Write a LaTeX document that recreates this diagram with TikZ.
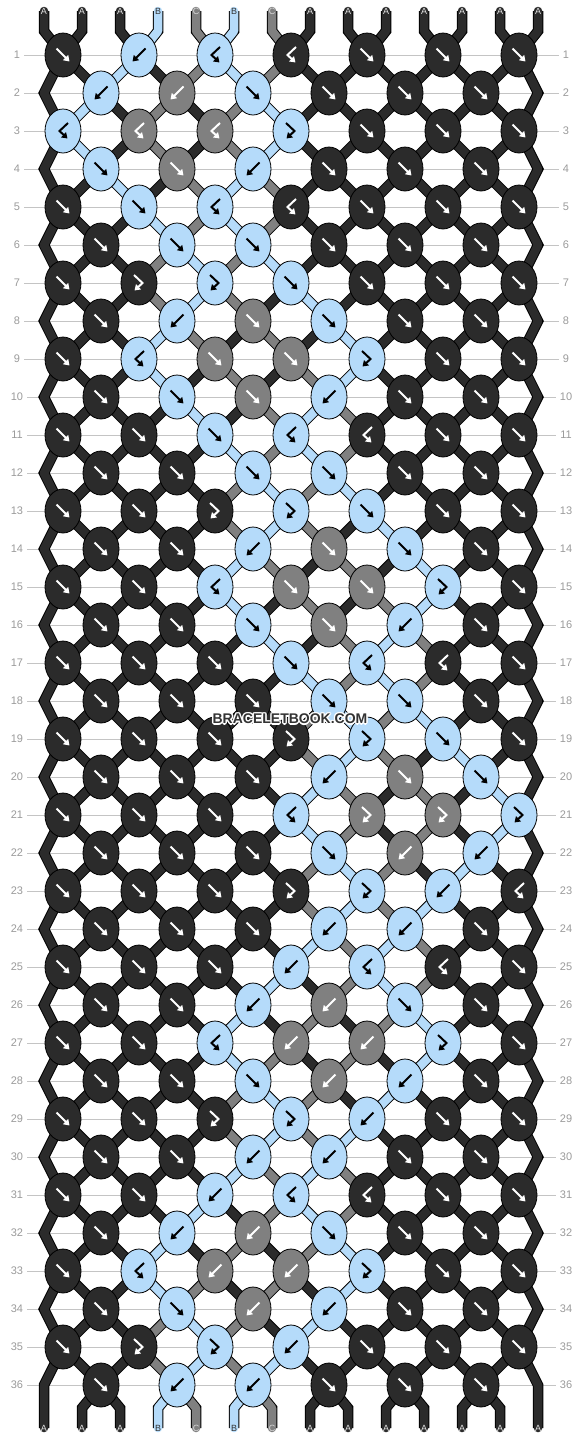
\documentclass[tikz,border=0pt]{standalone}
\usepackage{fontspec}
\setsansfont{Liberation Sans}
\usetikzlibrary{shapes.geometric,arrows.meta}
\definecolor{colA}{HTML}{2B2B2B}
\definecolor{colB}{HTML}{B5DBFA}
\definecolor{colC}{HTML}{808080}
\colorlet{arrA}{white}
\colorlet{arrB}{black}
\colorlet{arrC}{white}
\colorlet{txtA}{white!90!black}
\colorlet{txtB}{black!80}
\colorlet{txtC}{white!85!black}
\definecolor{gridgray}{HTML}{C4C4C4}
\definecolor{numgray}{HTML}{9A9A9A}
\pgfdeclarelayer{knots}
\pgfsetlayers{main,knots}
\newif\ifswap
\pgfkeys{/knot/.cd,
  f/.code={\let\kc\lcol\swaptrue},
  b/.code={\let\kc\rcol\swaptrue},
  fb/.code={\let\kc\lcol\swapfalse},
  bf/.code={\let\kc\rcol\swapfalse}}
\pgfkeys{/glyph/.cd,
  f/.code={\def\ga{(-6.5,-6.5)}\def\gb{(0,0)}\def\gc{(6.5,6.5)}},
  b/.code={\def\ga{(6.5,-6.5)}\def\gb{(0,0)}\def\gc{(-6.5,6.5)}},
  fb/.code={\def\ga{(-5,-8)}\def\gb{(3.5,0)}\def\gc{(-4.5,7.5)}},
  bf/.code={\def\ga{(5,-8)}\def\gb{(-3.5,0)}\def\gc{(4.5,7.5)}}}
\newcommand\strand[2]{\draw[strandline, draw=col#1] #2;}
\newcommand\incoming[2]{%
  \ifnum\rw=1 \strand{#2}{(t-#1) -- (p-0-#1) -- (p-1-#1)}%
  \else
    \ifnum\off=0
      \ifnum#1=0 \strand{#2}{(p-\rpp-#1) -- (p-\rp-#1) -- (p-\rw-#1)}%
      \else\ifnum#1=13 \strand{#2}{(p-\rpp-#1) -- (p-\rp-#1) -- (p-\rw-#1)}%
      \else \strand{#2}{(p-\rp-#1) -- (p-\rw-#1)}\fi\fi
    \else \strand{#2}{(p-\rp-#1) -- (p-\rw-#1)}\fi
  \fi}

\begin{document}
\begin{tikzpicture}[x=1pt, y=-1pt,
  knot/.style={ellipse, draw=black, line width=0.8pt, minimum width=36pt, minimum height=44pt, inner sep=0pt},
  glyph/.style={line width=2pt, -{Triangle[length=5.5pt,width=7pt]}},
  strandline/.style={line width=8.5pt, line cap=round, line join=round,
    preaction={draw=black, line width=10.5pt}},
  strlabel/.style={font=\sffamily\fontsize{9}{9}\selectfont, inner sep=0pt},
  rownum/.style={font=\sffamily\fontsize{11}{11}\selectfont, text=numgray, inner sep=4pt},
  gridline/.style={draw=gridgray, line width=0.9pt},
  markfont/.style={font=\sffamily\bfseries\fontsize{14}{14}\selectfont, inner sep=0pt}]
  \useasboundingbox (0,0) rectangle (582,1440);
  \foreach \rw in {1,...,36}{
    \node[rownum] (nl-\rw) at (17,55+38*\rw-38) {\rw};
    \node[rownum] (nr-\rw) at (566,55+38*\rw-38) {\rw};
    \draw[gridline] (nl-\rw) -- (nr-\rw);
  }
  \foreach \ki/\sc in {0/A,1/A,2/A,3/B,4/C,5/B,6/C,7/A,8/A,9/A,10/A,11/A,12/A,13/A}{
    \expandafter\xdef\csname st\ki\endcsname{\sc}
    \coordinate (t-\ki) at (44+38*\ki,11);
    \coordinate (p-0-\ki) at (44+38*\ki,31);
    \coordinate (q-\ki) at (44+38*\ki,1408);
    \coordinate (u-\ki) at (44+38*\ki,1428);
  }
  \foreach \rw/\kt in {1/{f,b,bf,bf,f,f,f}, 2/{b,b,f,f,f,f}, 3/{bf,bf,bf,fb,f,f,f}, 4/{f,f,b,f,f,f},
    5/{f,f,bf,bf,f,f,f}, 6/{f,f,f,f,f,f}, 7/{f,fb,fb,f,f,f,f}, 8/{f,b,f,f,f,f},
    9/{f,bf,f,f,fb,f,f}, 10/{f,f,f,b,f,f}, 11/{f,f,f,bf,bf,f,f}, 12/{f,f,f,f,f,f},
    13/{f,f,fb,fb,f,f,f}, 14/{f,f,b,f,f,f}, 15/{f,f,bf,f,f,fb,f}, 16/{f,f,f,f,b,f},
    17/{f,f,f,f,bf,bf,f}, 18/{f,f,f,f,f,f}, 19/{f,f,f,fb,fb,f,f}, 20/{f,f,f,b,f,f},
    21/{f,f,f,bf,fb,fb,fb}, 22/{f,f,f,f,b,b}, 23/{f,f,f,fb,fb,b,bf}, 24/{f,f,f,b,b,f},
    25/{f,f,f,b,bf,bf,f}, 26/{f,f,b,b,f,f}, 27/{f,f,bf,b,b,fb,f}, 28/{f,f,f,b,b,f},
    29/{f,f,fb,fb,b,f,f}, 30/{f,f,b,b,f,f}, 31/{f,f,b,bf,bf,f,f}, 32/{f,b,b,f,f,f},
    33/{f,bf,b,b,fb,f,f}, 34/{f,f,b,b,f,f}, 35/{f,fb,fb,b,f,f,f}, 36/{f,b,b,f,f,f}}{
    \pgfmathtruncatemacro\off{1-mod(\rw,2)}
    \pgfmathtruncatemacro\rp{\rw-1}
    \pgfmathtruncatemacro\rpp{\rw-2}
    \pgfmathsetmacro\yy{55+38*\rp}
    \ifnum\off=1
      \coordinate (p-\rw-0) at (44,\yy);
      \coordinate (p-\rw-13) at (538,\yy);
    \fi
    \foreach \kn [count=\kk from 0] in \kt {
      \pgfmathtruncatemacro\ki{2*\kk+\off}
      \pgfmathtruncatemacro\kj{\ki+1}
      \coordinate (p-\rw-\ki) at (63+76*\kk+38*\off,\yy);
      \coordinate (p-\rw-\kj) at (p-\rw-\ki);
      \edef\lcol{\csname st\ki\endcsname}
      \edef\rcol{\csname st\kj\endcsname}
      \incoming{\ki}{\lcol}
      \incoming{\kj}{\rcol}
      \pgfkeys{/knot/\kn}
      \expandafter\xdef\csname kc\kk\endcsname{\kc}
      \ifswap
        \expandafter\xdef\csname st\ki\endcsname{\rcol}
        \expandafter\xdef\csname st\kj\endcsname{\lcol}
      \fi
    }
    \begin{pgfonlayer}{knots}
      \foreach \kn [count=\kk from 0] in \kt {
        \edef\kc{\csname kc\kk\endcsname}
        \pgfkeys{/glyph/\kn}
        \node[knot, fill=col\kc] (k-\rw-\kk) at (63+76*\kk+38*\off,\yy) {};
        \draw[glyph, draw=arr\kc, shift={(k-\rw-\kk.center)}] \ga -- \gb -- \gc;
      }
    \end{pgfonlayer}
  }
  \foreach \ki in {0,...,13}{
    \edef\sc{\csname st\ki\endcsname}
    \ifnum\ki=0 \strand{\sc}{(p-35-\ki) -- (p-36-\ki) -- (q-\ki) -- (u-\ki)}
    \else\ifnum\ki=13 \strand{\sc}{(p-35-\ki) -- (p-36-\ki) -- (q-\ki) -- (u-\ki)}
    \else \strand{\sc}{(p-36-\ki) -- (q-\ki) -- (u-\ki)}\fi\fi
  }
  \foreach \ki/\sc in {0/A,1/A,2/A,3/B,4/C,5/B,6/C,7/A,8/A,9/A,10/A,11/A,12/A,13/A}{
    \node[strlabel, text=txt\sc] (lt-\ki) at (t-\ki) {\sc};
    \node[strlabel, text=txt\sc] (lb-\ki) at (u-\ki) {\sc};
  }
  \begin{pgfonlayer}{knots}
    \foreach \a in {0,45,...,315}
      \node[markfont, text=white, shift={(\a:1.4)}] (halo-\a) at (290,719) {BRACELETBOOK.COM};
    \node[markfont, text=black!80] (mark) at (290,719) {BRACELETBOOK.COM};
  \end{pgfonlayer}
\end{tikzpicture}
\end{document}
